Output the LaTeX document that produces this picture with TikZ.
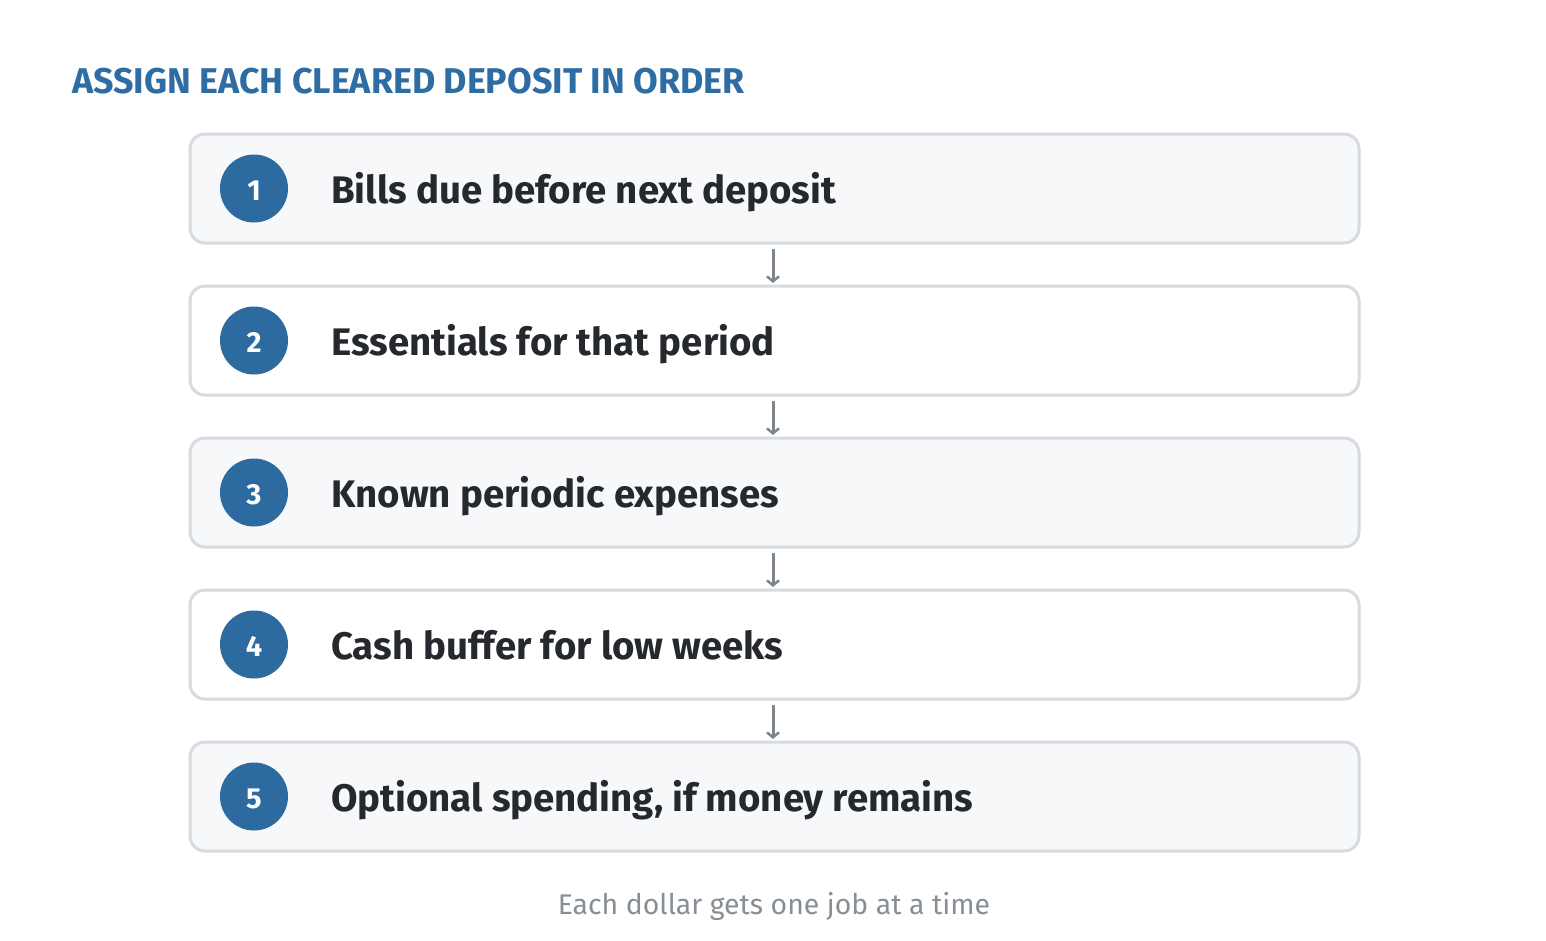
\documentclass[tikz,border=0pt]{standalone}
\usepackage{fontspec}
\setmainfont{Fira Sans}
\usetikzlibrary{arrows.meta}
\definecolor{boxline}{HTML}{D5DBE1}
\definecolor{boxfillA}{HTML}{F7F8FA}
\definecolor{circblue}{HTML}{2C6A9F}
\definecolor{titleblue}{HTML}{2E6DA4}
\definecolor{textdark}{HTML}{25282C}
\definecolor{arrowgray}{HTML}{7F868D}
\definecolor{footgray}{HTML}{868E96}
\tikzset{
  stepbox/.style={draw=boxline, line width=3pt, rounded corners=15pt, minimum width=1169pt, minimum height=109pt, inner sep=0pt},
  numcirc/.style={circle, fill=circblue, minimum size=68pt, inner sep=0pt},
  numtext/.style={anchor=base, text=white, font=\fontsize{29}{34}\selectfont\bfseries, inner sep=0pt},
  steptext/.style={anchor=base west, text=textdark, font=\fontsize{38.4}{44}\selectfont\bfseries, inner sep=0pt},
  flowarrow/.style={draw=arrowgray, line width=3pt, -{Straight Barb[length=5pt,width=12pt,line width=2.5pt]}},
}
\begin{document}
\begin{tikzpicture}[x=1pt,y=-1pt]
\useasboundingbox[fill=white] (0,0) rectangle (1546,940);
\node[anchor=base west, text=titleblue, font=\fontsize{35.8}{40}\selectfont\bfseries, inner sep=0pt] (title) at (72,93) {ASSIGN EACH CLEARED DEPOSIT IN ORDER};
\foreach \i/\t/\f in {1/Bills due before next deposit/boxfillA,2/Essentials for that period/white,3/Known periodic expenses/boxfillA,4/Cash buffer for low weeks/white,5/{Optional spending, if money remains}/boxfillA}{
  \node[stepbox, fill=\f] (box\i) at (774.5,{188.5+152*(\i-1)}) {};
  \node[numcirc] (num\i) at (254,{188.5+152*(\i-1)}) {};
  \node[numtext] (numt\i) at (254,{200+152*(\i-1)}) {\i};
  \node[steptext] (txt\i) at (331,{203.5+152*(\i-1)}) {\t};
}
\foreach \a/\b in {1/2,2/3,3/4,4/5}{
  \draw[flowarrow] ([xshift=-1.5pt,yshift=-4pt]box\a.south) -- ([xshift=-1.5pt,yshift=1.5pt]box\b.north);
}
\node[anchor=base, text=footgray, font=\fontsize{28.4}{33}\selectfont, inner sep=0pt] (foot) at (774,914) {Each dollar gets one job at a time};
\end{tikzpicture}
\end{document}
